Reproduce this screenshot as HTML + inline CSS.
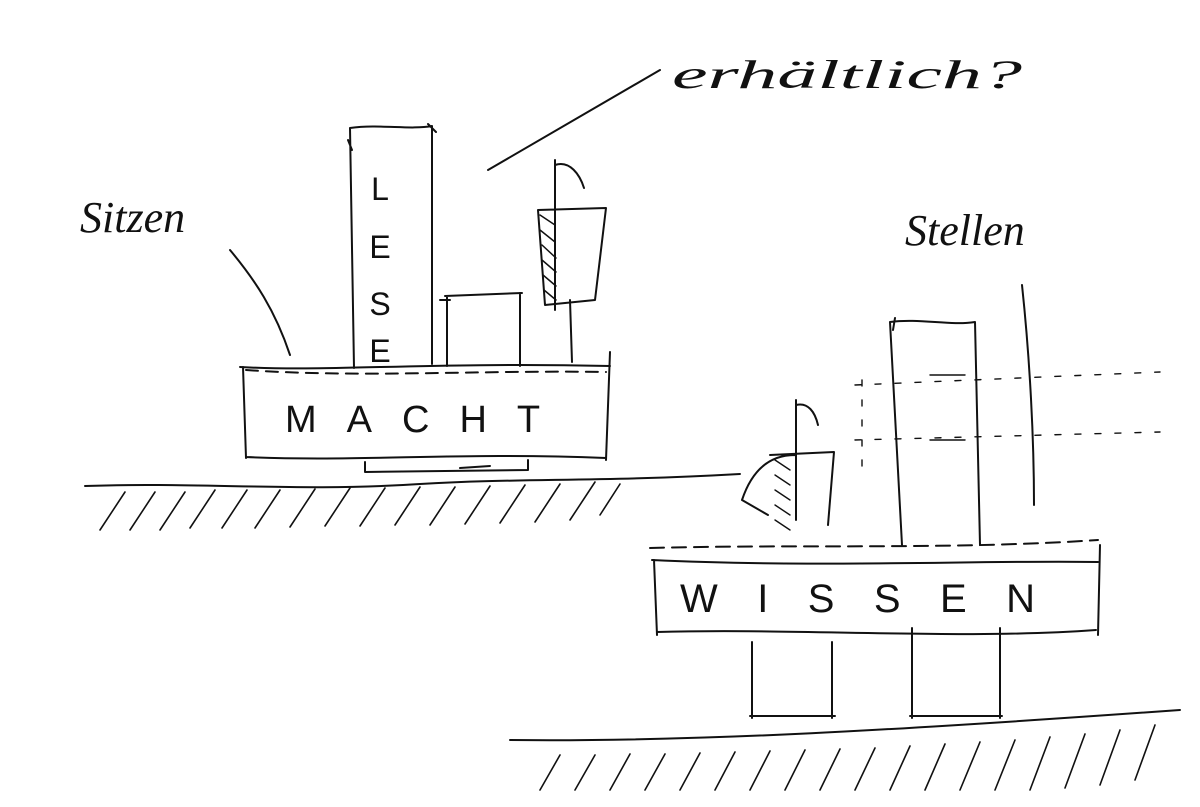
<!DOCTYPE html>
<html><head><meta charset="utf-8"><style>
html,body{margin:0;padding:0;background:#fff;}
svg{display:block}
text{font-family:"Liberation Sans",sans-serif;fill:#111}
</style></head><body>
<svg width="1200" height="807" viewBox="0 0 1200 807" xmlns="http://www.w3.org/2000/svg">
<g fill="none" stroke="#111" stroke-width="2" stroke-linecap="round" stroke-linejoin="round">
<path d="M85 486 C200 482 300 492 420 484 C520 478 600 482 740 474"/>
<g stroke-width="1.6">
<path d="M100 530 L125 492 M130 530 L155 492 M160 530 L185 492 M190 528 L215 490 M222 528 L247 490 M255 528 L280 490 M290 527 L315 489 M325 526 L350 488 M360 526 L385 488 M395 525 L420 487 M430 525 L455 487 M465 524 L490 486 M500 523 L525 485 M535 522 L560 484 M570 520 L595 482 M600 515 L620 484"/>
</g>
<path d="M240 367 C330 372 420 362 610 366 M243 367 L246 458 M246 457 C360 462 460 452 606 458 M610 352 L606 460"/>
<path d="M246 370 C360 378 480 370 606 372" stroke-dasharray="12 8"/>
<path d="M365 462 L365 472 L528 470 L528 460 M460 468 L490 466"/>
<path d="M350 128 C380 124 410 130 432 126 M350 128 L354 368 M432 126 L432 364 M348 140 L352 150 M428 124 L436 132"/>
<path d="M445 296 L522 293 M447 296 L447 366 M520 293 L520 366 M440 300 L450 300"/>
<path d="M555 160 L555 310 M555 165 C570 160 580 175 584 188 M538 210 L606 208 L595 300 L545 305 Z M570 300 L572 362"/>
<g stroke-width="1.5"><path d="M540 215 L555 225 M540 230 L555 242 M542 245 L556 258 M542 260 L556 272 M543 275 L556 286 M544 290 L556 300"/></g>
<path d="M488 170 L660 70"/>
<path d="M230 250 C255 280 275 310 290 355"/>
<path d="M1022 285 C1030 360 1034 440 1034 505"/>
<path d="M890 322 C920 318 950 326 975 322 M890 322 L902 545 M975 322 L980 545 M895 318 L893 330"/>
<path d="M930 375 L965 375 M930 440 L965 440" stroke-width="1.4"/>
<g stroke-width="1.4" stroke-dasharray="6 14">
<path d="M855 385 L1160 372 M855 440 L1160 432 M862 380 L862 470"/>
</g>
<path d="M650 548 C800 544 950 550 1098 540" stroke-dasharray="14 8"/>
<path d="M652 560 C820 568 980 560 1098 562 M654 560 L657 635 M1100 545 L1098 635 M657 632 C800 628 960 640 1096 630"/>
<path d="M752 642 L752 718 M832 642 L832 718 M750 716 L835 716 M912 628 L912 718 M1000 628 L1000 718 M910 716 L1002 716"/>
<path d="M796 400 L796 520 M796 405 C808 402 815 412 818 425 M742 500 C752 470 770 455 795 455 M742 500 L768 515 M770 455 L834 452 L828 525"/>
<g stroke-width="1.4"><path d="M775 460 L790 470 M775 475 L790 485 M775 490 L790 500 M775 505 L790 515 M775 520 L790 530"/></g>
<path d="M510 740 C700 742 900 730 1180 710"/>
<g stroke-width="1.6">
<path d="M540 790 L560 755 M575 790 L595 755 M610 790 L630 754 M645 790 L665 754 M680 790 L700 753 M715 790 L735 752 M750 790 L770 751 M785 790 L805 750 M820 790 L840 749 M855 790 L875 748 M890 790 L910 746 M925 790 L945 744 M960 790 L980 742 M995 790 L1015 740 M1030 790 L1050 737 M1065 788 L1085 734 M1100 785 L1120 730 M1135 780 L1155 725"/>
</g>
</g>
<g font-size="32" text-anchor="middle" style="font-weight:300" fill="#222">
<text x="380" y="200">L</text><text x="380" y="258">E</text><text x="380" y="315">S</text><text x="380" y="362">E</text>
</g>
<text x="285" y="432" font-size="38" letter-spacing="30">MACHT</text>
<text x="680" y="612" font-size="40" textLength="355" lengthAdjust="spacing">WISSEN</text>
<text x="80" y="232" font-size="44" style="font-family:'Liberation Serif',cursive" font-style="italic">Sitzen</text>
<text x="905" y="245" font-size="44" style="font-family:'Liberation Serif',cursive" font-style="italic">Stellen</text>
<text x="672" y="88" font-size="40" style="font-family:'Liberation Serif',cursive" font-style="italic" textLength="350" lengthAdjust="spacingAndGlyphs">erhältlich?</text>
</svg>
</body></html>
